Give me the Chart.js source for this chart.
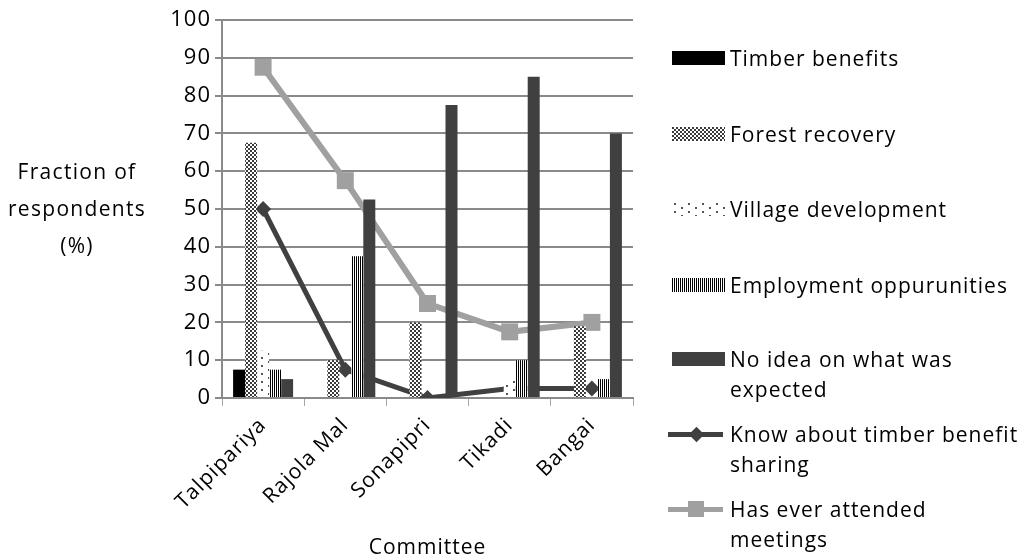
<!DOCTYPE html>
<html>
<head>
<meta charset="utf-8">
<script src="https://cdn.jsdelivr.net/npm/chart.js@4.4.1/dist/chart.umd.min.js"></script>
<style>
body { margin: 0; background: #fff; font-family: "Open Sans", sans-serif; color: #000; }
#wrap { position: relative; width: 1025px; height: 559px; overflow: hidden; }
#chart { position: absolute; left: 0; top: 0; }
.ytitle { position: absolute; left: 0; width: 154px; top: 153px; text-align: center; font-size: 21px; line-height: 37px; letter-spacing: 1.3px; }
.lg { position: absolute; left: 730px; font-size: 21px; line-height: 30px; letter-spacing: 1px; white-space: nowrap; }
.sw { position: absolute; left: 672px; width: 53px; height: 14px; }
.ln { position: absolute; left: 668px; width: 55px; height: 5px; }
.mk { position: absolute; }
</style>
</head>
<body>
<div id="wrap">
  <canvas id="chart" width="1025" height="559"></canvas>
  <div class="ytitle">Fraction of<br>respondents<br>(%)</div>
  <div id="legend"></div>
</div>
<script>
const committees = ['Talpipariya', 'Rajola Mal', 'Sonapipri', 'Tikadi', 'Bangai'];
const timberBenefits = [7.5, 0, 0, 0, 0];
const forestRecovery = [67.5, 10, 20, 0, 19];
const villageDevelopment = [12.5, 0, 0, 5, 0];
const employment = [7.5, 37.5, 0, 10, 5];
const noIdea = [5, 52.5, 77.5, 85, 70];
const knowTimberSharing = [50, 7.5, 0, 2.5, 2.5];
const attendedMeetings = [87.5, 57.5, 25, 17.5, 20];
const yMin = 0, yMax = 100, yStep = 10;

// small tiles used as fill patterns
function tile(w, h, draw) {
    const c = document.createElement('canvas');
    c.width = w; c.height = h;
    const x = c.getContext('2d');
    x.fillStyle = '#fff';
    x.fillRect(0, 0, w, h);
    draw(x);
    return c;
}
const checkerTile = tile(4, 4, x => {
    x.fillStyle = '#3a3a3a';
    x.fillRect(0, 0, 2, 2);
    x.fillRect(2, 2, 2, 2);
});
const dotTile = tile(14, 8, x => {
    x.fillStyle = '#555';
    x.fillRect(2, 1, 2, 2);
    x.fillRect(9, 5, 2, 2);
});
const stripeTile = tile(2, 2, x => {
    x.fillStyle = '#000';
    x.fillRect(0, 0, 1, 2);
});

const ctx = document.getElementById('chart').getContext('2d');
const pat = t => ctx.createPattern(t, 'repeat');

new Chart(ctx, {
    type: 'bar',
    data: {
        labels: committees,
        datasets: [
            { label: 'Timber benefits', data: timberBenefits, backgroundColor: '#000', order: 0 },
            { label: 'Forest recovery', data: forestRecovery, backgroundColor: pat(checkerTile), order: 0 },
            { label: 'Village development', data: villageDevelopment, backgroundColor: pat(dotTile), order: 0 },
            { label: 'Employment oppurunities', data: employment, backgroundColor: pat(stripeTile), order: 0 },
            { label: 'No idea on what was expected', data: noIdea, backgroundColor: '#404040', order: 0 },
            {
                type: 'line', label: 'Know about timber benefit sharing', data: knowTimberSharing,
                borderColor: '#404040', backgroundColor: '#404040', borderWidth: 5,
                pointStyle: 'rectRot', pointRadius: 8, pointBorderWidth: 0, order: 1
            },
            {
                type: 'line', label: 'Has ever attended meetings', data: attendedMeetings,
                borderColor: '#a0a0a0', backgroundColor: '#a0a0a0', borderWidth: 6,
                pointStyle: 'rect', pointRadius: 12, pointBorderWidth: 0, order: 1
            }
        ]
    },
    options: {
        responsive: false,
        animation: false,
        layout: { padding: { top: 20, right: 392, bottom: 0, left: 0 } },
        plugins: { legend: { display: false }, tooltip: { enabled: false } },
        datasets: { bar: { categoryPercentage: 0.73, barPercentage: 1 } },
        scales: {
            x: {
                grid: { drawOnChartArea: false, offset: true, tickLength: 8, color: '#a6a6a6', lineWidth: 1 },
                border: { color: '#8a8a8a', width: 2 },
                ticks: { minRotation: 45, maxRotation: 45, color: '#000', font: { family: 'Open Sans', size: 21 }, padding: 7 },
                title: { display: true, text: 'Committee', color: '#000', font: { family: 'Open Sans', size: 21, lineHeight: 1 }, padding: 0 },
                afterFit: s => { s.height = 161; }
            },
            y: {
                min: yMin, max: yMax,
                ticks: { stepSize: yStep, color: '#000', font: { family: 'Open Sans', size: 22 }, padding: 4 },
                grid: { color: '#8a8a8a', lineWidth: 2, tickLength: 7 },
                border: { color: '#8a8a8a', width: 2 },
                afterFit: s => { s.width = 222; }
            }
        }
    },
    plugins: [{
        id: 'spacing',
        beforeDraw: c => { c.ctx.letterSpacing = '1px'; }
    }]
});

// legend on the right
const legend = document.getElementById('legend');
const entries = [
    { text: 'Timber benefits', y: 58, fill: '#000' },
    { text: 'Forest recovery', y: 134, tile: checkerTile },
    { text: 'Village development', y: 209, tile: dotTile },
    { text: 'Employment oppurunities', y: 285, tile: stripeTile },
    { text: 'No idea on what was<br>expected', y: 359, fill: '#404040' },
    { text: 'Know about timber benefit<br>sharing', y: 434, line: '#404040', marker: 'diamond' },
    { text: 'Has ever attended<br>meetings', y: 509, line: '#a0a0a0', marker: 'square' }
];
entries.forEach(e => {
    const t = document.createElement('div');
    t.className = 'lg';
    t.style.top = (e.y - 15) + 'px';
    t.innerHTML = e.text;
    legend.appendChild(t);
    if (e.line) {
        const l = document.createElement('div');
        l.className = 'ln';
        l.style.top = (e.y - 2.5) + 'px';
        l.style.background = e.line;
        legend.appendChild(l);
        const m = document.createElement('div');
        m.className = 'mk';
        m.style.background = e.line;
        if (e.marker === 'diamond') {
            m.style.width = '11px'; m.style.height = '11px';
            m.style.left = (696 - 5.5) + 'px'; m.style.top = (e.y - 5.5) + 'px';
            m.style.transform = 'rotate(45deg)';
        } else {
            m.style.width = '16px'; m.style.height = '16px';
            m.style.left = (696 - 8) + 'px'; m.style.top = (e.y - 8) + 'px';
        }
        legend.appendChild(m);
    } else {
        const s = document.createElement('canvas');
        s.className = 'sw';
        s.width = 53; s.height = 14;
        s.style.top = (e.y - 7) + 'px';
        const sx = s.getContext('2d');
        sx.fillStyle = e.tile ? sx.createPattern(e.tile, 'repeat') : e.fill;
        sx.fillRect(0, 0, 53, 14);
        legend.appendChild(s);
    }
});
</script>
</body>
</html>
